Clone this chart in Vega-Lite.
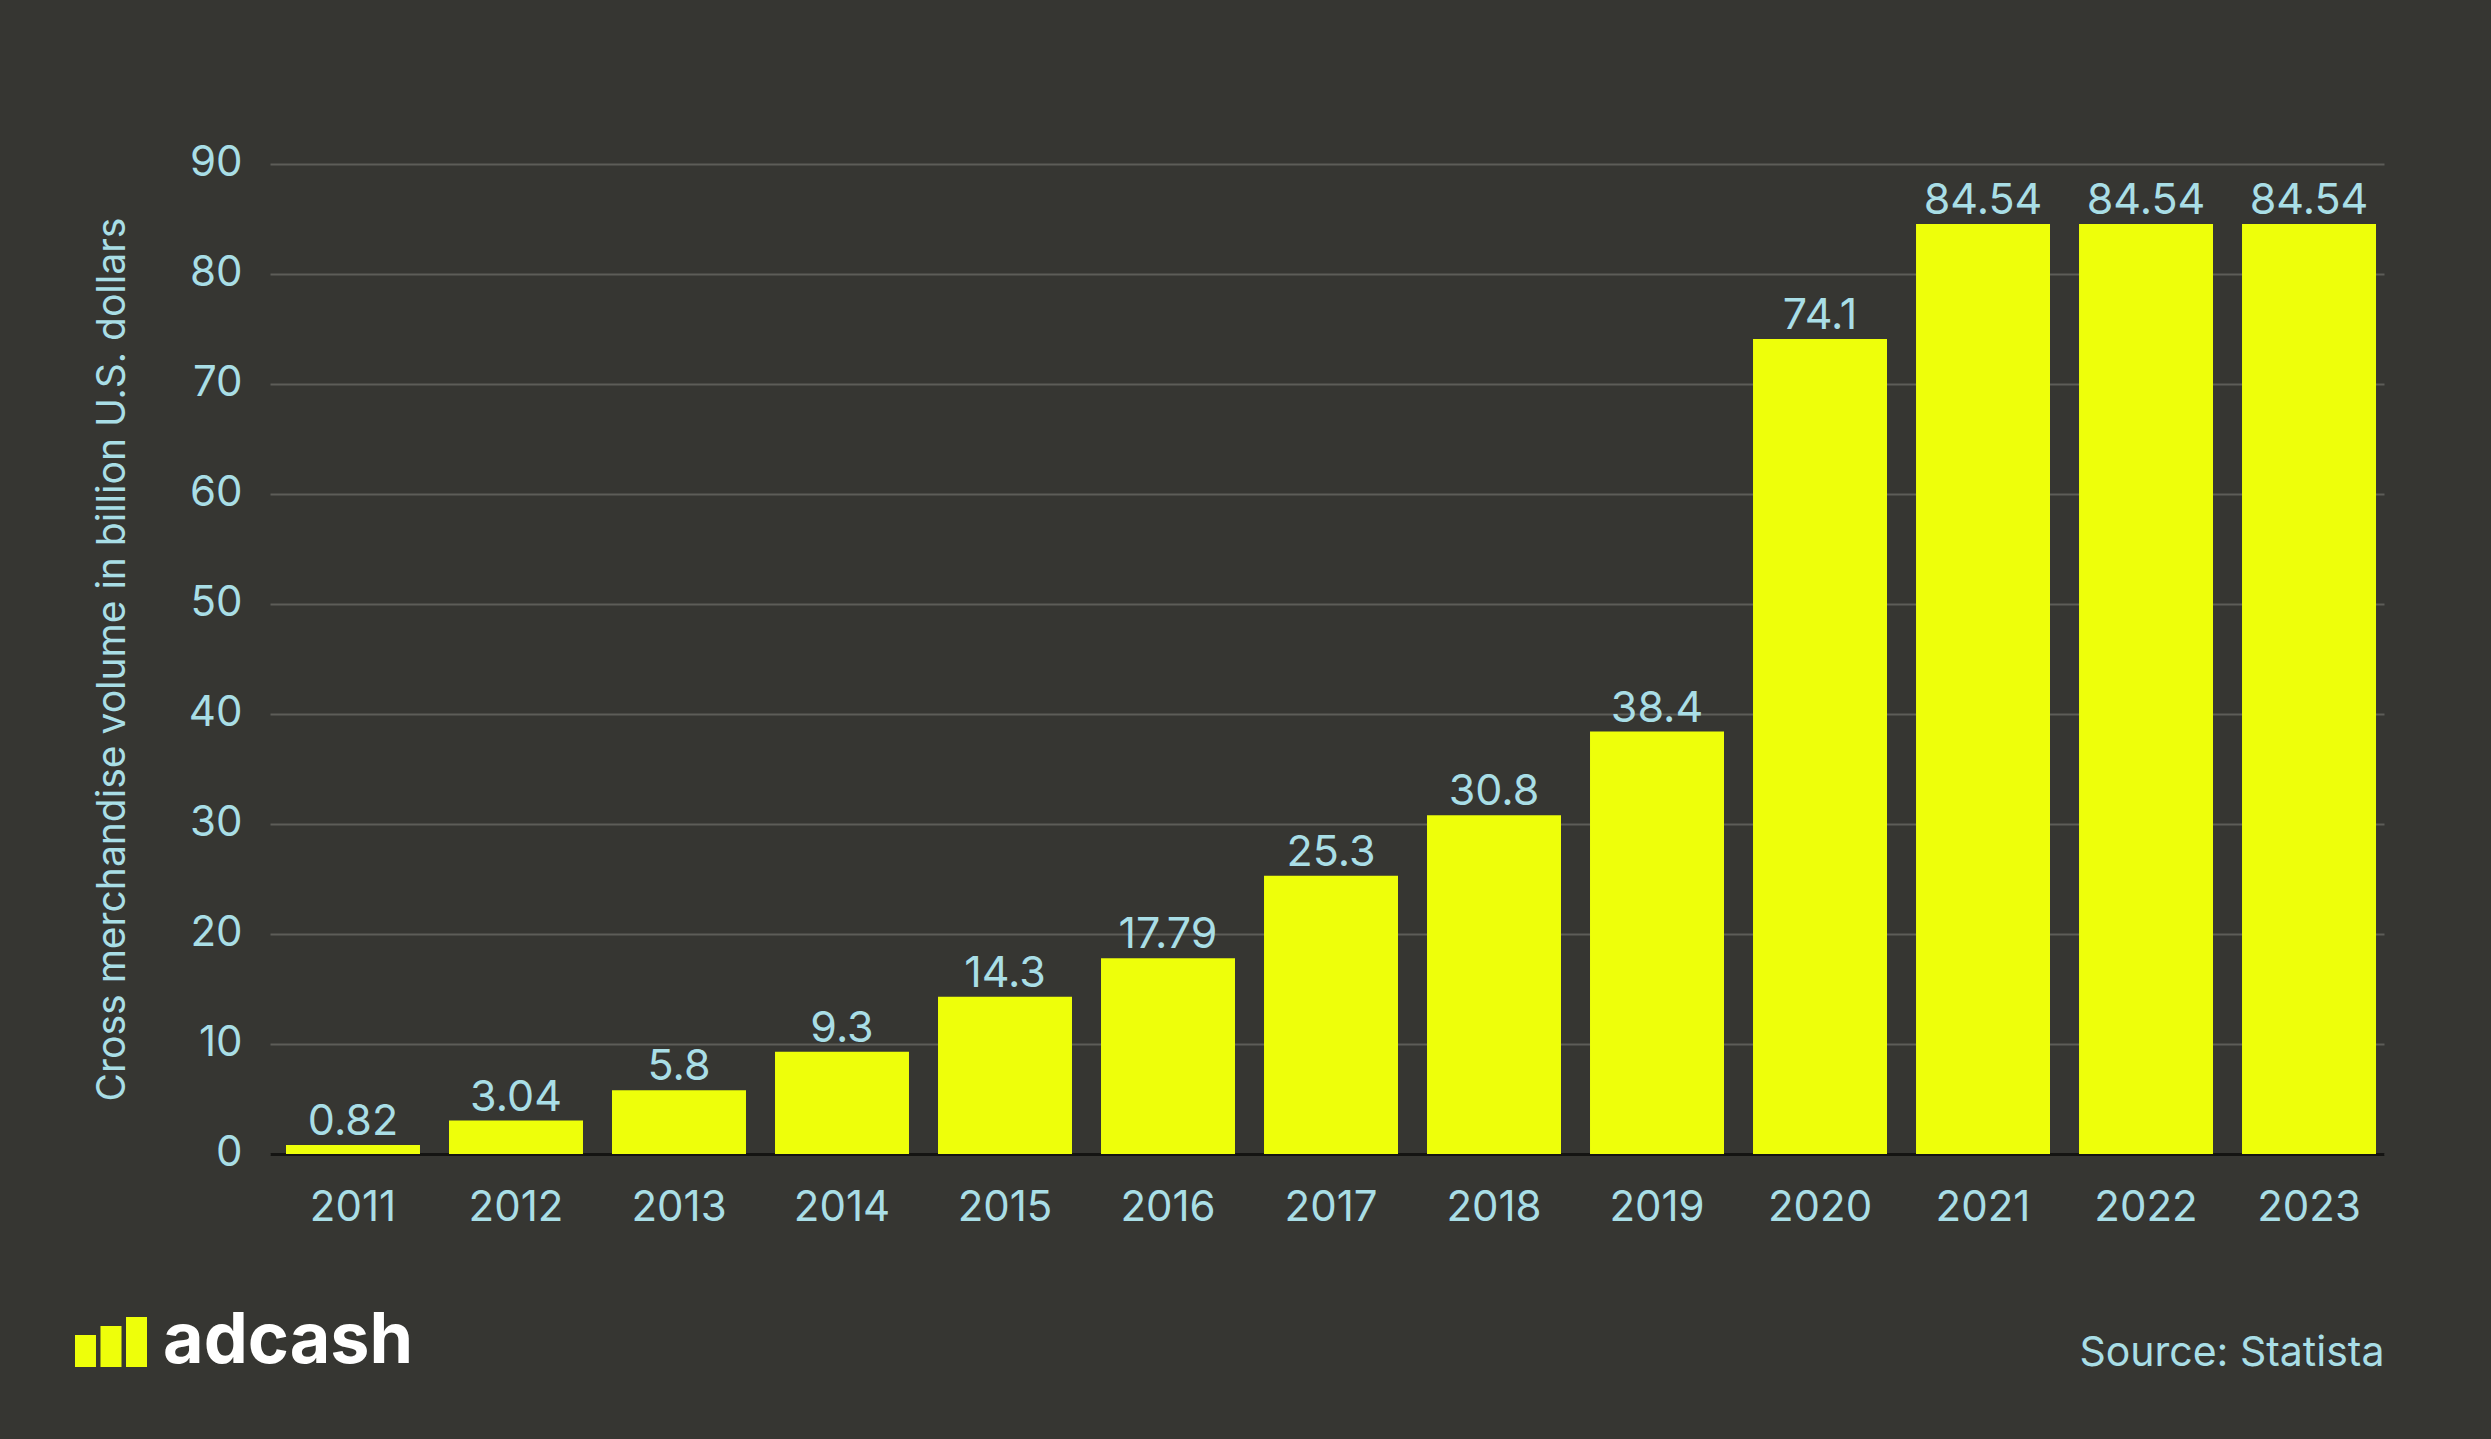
{
  "$schema": "https://vega.github.io/schema/vega-lite/v6.json",
  "width": 2114,
  "height": 990,
  "autosize": {"type": "none"},
  "padding": {"left": 270, "top": 164, "right": 107, "bottom": 285},
  "background": "#363632",
  "config": {"view": {"stroke": null}, "font": "Inter"},
  "data": {
    "values": [
      {"year": "2011", "value": 0.82},
      {"year": "2012", "value": 3.04},
      {"year": "2013", "value": 5.8},
      {"year": "2014", "value": 9.3},
      {"year": "2015", "value": 14.3},
      {"year": "2016", "value": 17.79},
      {"year": "2017", "value": 25.3},
      {"year": "2018", "value": 30.8},
      {"year": "2019", "value": 38.4},
      {"year": "2020", "value": 74.1},
      {"year": "2021", "value": 84.54},
      {"year": "2022", "value": 84.54},
      {"year": "2023", "value": 84.54}
    ]
  },
  "encoding": {
    "x": {
      "field": "year",
      "type": "ordinal",
      "scale": {"paddingInner": 0.178, "paddingOuter": 0.0736, "align": 0.667},
      "axis": {
        "title": "Source: Statista",
        "titleAnchor": "end",
        "titleAlign": "right",
        "titleBaseline": "top",
        "titleColor": "#A9DEE6",
        "titleFont": "Inter",
        "titleFontSize": 41,
        "titleFontWeight": "normal",
        "titlePadding": 105,
        "labelAngle": 0,
        "labelFontSize": 42,
        "labelColor": "#A9DEE6",
        "labelFont": "Inter",
        "labelPadding": 33,
        "ticks": false,
        "domain": true,
        "domainColor": "#141412",
        "domainWidth": 3,
        "grid": false
      }
    },
    "y": {
      "field": "value",
      "type": "quantitative",
      "scale": {"domain": [0, 90], "nice": false},
      "axis": {
        "title": "Cross merchandise volume in billion U.S. dollars",
        "titleFontSize": 39,
        "titleFontWeight": "normal",
        "titleColor": "#A9DEE6",
        "titleFont": "Inter",
        "titlePadding": 56,
        "values": [0, 10, 20, 30, 40, 50, 60, 70, 80, 90],
        "labelFontSize": 42,
        "labelColor": "#A9DEE6",
        "labelFont": "Inter",
        "labelPadding": 28,
        "labelOffset": -2,
        "ticks": false,
        "domain": false,
        "grid": true,
        "gridColor": "#5d5d58",
        "gridWidth": 2
      }
    }
  },
  "layer": [
    {
      "mark": {"type": "bar"},
      "encoding": {
        "color": {
          "datum": "adcash",
          "type": "nominal",
          "scale": {"range": ["#EEFF0A"]},
          "legend": {
            "orient": "none",
            "legendX": -195,
            "legendY": 1142,
            "title": null,
            "padding": 0,
            "symbolType": "M-1,0.694V-0.194H-0.417V0.694Z M-0.292,0.694V-0.444H0.292V0.694Z M0.417,0.694V-0.694H1V0.694Z",
            "symbolSize": 5184,
            "symbolStrokeWidth": 0,
            "symbolOpacity": 1,
            "labelFontSize": 70,
            "labelFontWeight": "bold",
            "labelColor": "#FFFFFF",
            "labelFont": "Inter",
            "labelOffset": 16,
            "labelLimit": 0
          }
        }
      }
    },
    {
      "mark": {
        "type": "text",
        "baseline": "alphabetic",
        "align": "center",
        "dy": -10,
        "fontSize": 43,
        "font": "Inter",
        "color": "#A9DEE6"
      },
      "encoding": {
        "text": {"field": "value", "type": "nominal"}
      }
    }
  ]
}
